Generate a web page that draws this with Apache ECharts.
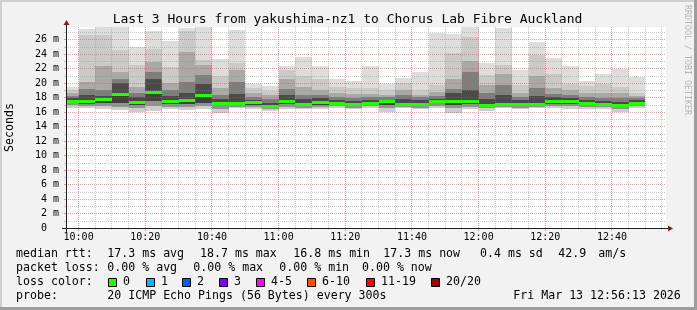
<!DOCTYPE html>
<html><head><meta charset="utf-8">
<script src="https://cdn.jsdelivr.net/npm/echarts@6/dist/echarts.min.js"></script>
<style>html,body{margin:0;padding:0;background:#f2f2f2}#c{width:697px;height:310px}</style>
</head><body><div id="c"></div>
<script>
// ---- data (values in ms, one entry per 5-minute step, step start time) ----
const steps = ['09:55','10:00','10:05','10:10','10:15','10:20','10:25','10:30','10:35','10:40','10:45','10:50','10:55','11:00','11:05','11:10','11:15','11:20','11:25','11:30','11:35','11:40','11:45','11:50','11:55','12:00','12:05','12:10','12:15','12:20','12:25','12:30','12:35','12:40','12:45'];
const pingMax   = [19.4,27.5,27.9,27.9,25.0,27.1,25.8,27.6,27.9,23.3,27.3,19.8,19.6,22.3,23.6,22.3,20.5,20.25,22.3,19.9,20.7,21.5,26.95,26.8,27.9,22.8,27.6,21.8,25.7,23.4,22.3,20.25,21.2,21.9,20.8];
const pingHi1   = [19.0,26.6,26.6,24.5,22.5,24.7,22.2,27.1,23.2,21.0,22.7,19.3,18.9,21.8,21.0,20.6,19.5,19.25,19.3,19.0,20.0,19.0,19.7,24.1,26.4,21.1,22.5,19.7,23.9,21.3,19.9,19.6,19.9,19.4,18.6];
const pingHi2   = [18.6,20.2,22.3,21.5,19.4,22.9,20.0,24.3,22.5,19.3,21.8,18.6,18.3,20.6,19.4,19.0,18.6,18.5,18.5,18.4,19.0,18.4,18.8,20.6,23.1,19.7,21.3,18.6,20.95,19.3,19.0,18.6,18.6,18.6,18.2];
const pingHi3   = [18.2,19.2,19.0,20.6,18.6,21.5,19.0,20.2,21.1,18.4,20.2,18.0,17.8,19.2,18.4,18.4,18.0,17.9,18.0,18.0,18.3,18.0,18.2,19.2,21.5,18.6,19.7,18.0,19.3,18.5,18.4,18.0,17.9,17.9,17.9];
const pingHi4   = [17.9,18.3,18.2,20.0,18.0,20.6,18.2,18.6,19.8,17.8,18.5,17.7,17.3,18.3,17.8,17.9,17.6,17.5,17.6,17.7,17.8,17.6,17.8,18.6,19.0,17.8,18.3,17.6,18.2,18.0,17.9,17.6,17.5,17.4,17.6];
const medianRtt = [17.5,17.5,17.8,18.5,17.4,18.7,17.55,17.7,18.3,17.3,17.3,17.4,16.8,17.55,17.1,17.4,17.3,17.05,17.3,17.5,17.1,17.1,17.55,17.55,17.55,16.95,17.1,17.1,17.1,17.55,17.55,17.2,17.1,17.0,17.3];
const pingLo1   = [17.2,17.1,17.2,17.2,16.9,17.5,17.1,17.1,17.2,16.9,16.9,17.0,16.6,17.1,16.9,17.0,17.0,16.8,17.0,17.0,16.9,16.9,17.2,17.0,17.1,16.7,16.9,16.9,16.9,17.1,17.1,16.9,16.9,16.7,17.0];
const pingLo2   = [16.9,16.8,16.8,16.7,16.5,16.8,16.7,16.7,16.8,16.4,16.7,16.7,16.4,16.7,16.6,16.7,16.8,16.6,16.8,16.5,16.7,16.6,16.8,16.5,16.7,16.5,16.7,16.6,16.7,16.8,16.8,16.7,16.7,16.4,16.8];
const pingMin   = [16.6,16.6,16.4,16.3,16.0,16.2,16.4,16.3,16.4,15.8,16.5,16.4,16.2,16.4,16.4,16.4,16.5,16.4,16.5,16.0,16.5,16.4,16.5,15.9,16.4,16.2,16.5,16.4,16.5,16.5,16.4,16.4,16.4,16.0,16.5];
const xTickLabels = ['10:00','10:20','10:40','11:00','11:20','11:40','12:00','12:20','12:40'];
const rangeStart = '09:56:13', rangeEnd = '12:56:13';
const titleText = 'Last 3 Hours from yakushima-nz1 to Chorus Lab Fibre Auckland';
const rttStats  = ['17.3 ms avg','18.7 ms max','16.8 ms min','17.3 ms now','0.4 ms sd','42.9','am/s'];
const lossStats = ['0.00 % avg','0.00 % max','0.00 % min','0.00 % now'];
const lossNames  = ['0','1','2','3','4-5','6-10','11-19','20/20'];
const lossColors = ['#26ff00','#00b8ff','#0059ff','#7e00ff','#ff00ff','#ff5500','#ff0000','#a10000'];
const probeText = '20 ICMP Echo Pings (56 Bytes) every 300s';
const dateText  = 'Fri Mar 13 12:56:13 2026';

// ---- helpers ----
const STEP = 5;
function toMin(s){const p=s.split(':').map(Number);return (p[0]-10)*60+p[1]+(p[2]||0)/60;}
const FONT = '"DejaVu Sans Mono", monospace';
const smokeData = steps.map((s,i)=>[toMin(s),pingMin[i],pingLo2[i],pingLo1[i],medianRtt[i],pingHi4[i],pingHi3[i],pingHi2[i],pingHi1[i],pingMax[i]]);
const medianData = steps.map((s,i)=>[toMin(s),medianRtt[i]]);
const FILL = ['#cdcdcd','#929292','#404040','#4a4a4a','#7e7e7e','#a9a9a9','#cacaca','#dddddd'];
const xMin = toMin(rangeStart), xMax = toMin(rangeEnd);
const gridData = [];
for (let v = Math.ceil(xMin/STEP)*STEP; v < xMax; v += STEP) gridData.push([v,0,v%20===0?1:0]);
for (let v = 1; v < 28; v++) gridData.push([v,1,v%2===0?1:0]);

function renderSmoke(params, api){
  const cs = params.coordSys, t = api.value(0);
  let x0 = Math.round(api.coord([t,0])[0]), x1 = Math.round(api.coord([t+STEP,0])[0]);
  x0 = Math.max(x0, Math.round(cs.x)); x1 = Math.min(x1, Math.round(cs.x+cs.width));
  const children = [];
  for (let k=0;k<8;k++){
    const ya = Math.round(api.coord([t,api.value(k+1)])[1]);
    let yb = Math.round(api.coord([t,api.value(k+2)])[1]);
    yb = Math.max(yb, cs.y);
    if (ya-yb<=0) continue;
    children.push({type:'rect',shape:{x:x0,y:yb,width:x1-x0,height:ya-yb},style:{fill:FILL[k]}});
  }
  return {type:'group',children};
}
function renderMedian(params, api){
  const cs = params.coordSys, t = api.value(0);
  let x0 = Math.round(api.coord([t,0])[0]), x1 = Math.round(api.coord([t+STEP,0])[0]);
  x0 = Math.max(x0, Math.round(cs.x)); x1 = Math.min(x1, Math.round(cs.x+cs.width));
  const y = Math.round(api.coord([t,api.value(1)])[1]);
  return {type:'rect',shape:{x:x0,y:y-1,width:x1-x0,height:3},style:{fill:'#26ff00'}};
}
function renderGrid(params, api){
  const cs = params.coordSys, v = api.value(0), dir = api.value(1), major = api.value(2);
  const col = major ? 'rgba(222,79,79,0.55)' : 'rgba(143,143,143,0.45)';
  if (dir===0){
    const x = Math.floor(api.coord([v,0])[0])+0.5;
    const yb = cs.y+cs.height;
    return {type:'group',children:[
      {type:'line',shape:{x1:x,y1:cs.y,x2:x,y2:yb},style:{stroke:col,lineWidth:1,lineDash:[1,1]}},
      {type:'line',shape:{x1:x,y1:yb,x2:x,y2:yb+(major?3:2)},style:{stroke:col,lineWidth:1}}]};
  }
  const y = Math.round(api.coord([0,v])[1])+0.5;
  return {type:'group',children:[
    {type:'line',shape:{x1:cs.x,y1:y,x2:cs.x+cs.width,y2:y},style:{stroke:col,lineWidth:1,lineDash:[1,1]}},
    {type:'line',shape:{x1:cs.x-2,y1:y,x2:cs.x,y2:y},style:{stroke:col,lineWidth:1}}]};
}
function renderAxes(params, api){
  const cs = params.coordSys;
  const x0 = Math.round(cs.x)+0.5, yb = Math.round(cs.y+cs.height)+0.5, xr = cs.x+cs.width, yt = cs.y;
  return {type:'group',children:[
    {type:'line',shape:{x1:cs.x-4,y1:yb,x2:xr+4,y2:yb},style:{stroke:'#1f1f1f',lineWidth:1}},
    {type:'line',shape:{x1:x0,y1:yb+4,x2:x0,y2:yt-4},style:{stroke:'#1f1f1f',lineWidth:1}},
    {type:'polygon',shape:{points:[[xr+2,yb-3],[xr+2,yb+3],[xr+7,yb]]},style:{fill:'#7f1f1f'}},
    {type:'polygon',shape:{points:[[x0-3,yt-2],[x0+3,yt-2],[x0,yt-7]]},style:{fill:'#7f1f1f'}}]};
}

// ---- legend graphics (text only, positions are layout) ----
const g = [];
function txt(x,y,s,extra){g.push(Object.assign({type:'text',x:x,y:y,silent:true,style:{text:s,font:'11.6px '+FONT,fill:'#000',align:'left',verticalAlign:'middle',textAlign:'left',textVerticalAlign:'middle'}},extra||{}));}
g.push({type:'rect',shape:{x:0,y:0,width:697,height:2},style:{fill:'#cfcfcf'}});
g.push({type:'rect',shape:{x:0,y:0,width:2,height:310},style:{fill:'#cfcfcf'}});
g.push({type:'rect',shape:{x:694,y:0,width:3,height:310},style:{fill:'#9e9e9e'}});
g.push({type:'rect',shape:{x:0,y:307,width:697,height:3},style:{fill:'#9e9e9e'}});
g.push({type:'text',x:347.5,y:19.3,style:{text:titleText,font:'13px '+FONT,fill:'#000',align:'center',verticalAlign:'middle',textAlign:'center',textVerticalAlign:'middle'}});
g.push({type:'text',x:687.5,y:60,rotation:-Math.PI/2,style:{text:'RRDTOOL / TOBI OETIKER',font:'8.3px '+FONT,fill:'#b4b4b4',align:'center',verticalAlign:'middle',textAlign:'center',textVerticalAlign:'middle'}});
const r1 = 254.3, r2 = 268.3, r3 = 282.3, r4 = 296;
txt(16,r1,'median rtt:');
[107.3,200,293.3,383.3,480,558.3,598.3].forEach((x,i)=>txt(x,r1,rttStats[i]));
txt(16,r2,'packet loss:');
[107.3,193.3,279.3,362].forEach((x,i)=>txt(x,r2,lossStats[i]));
txt(16,r3,'loss color:');
[108,146,182,219,256,307,366,431].forEach((x,i)=>{
  g.push({type:'rect',shape:{x:x+0.5,y:278.5,width:8,height:8},style:{fill:lossColors[i],stroke:'#000',lineWidth:1}});
  txt(x+15,r3,lossNames[i]);
});
txt(16,r4,'probe:');
txt(107.3,r4,probeText);
txt(513.3,r4,dateText);

const chart = echarts.init(document.getElementById('c'),null,{renderer:'canvas'});
chart.setOption({
  backgroundColor:'#f2f2f2',
  animation:false,
  grid:{left:66,right:31,top:27,bottom:82,show:true,backgroundColor:'#ffffff',borderWidth:0,containLabel:false,outerBoundsMode:'none'},
  xAxis:{type:'value',min:xMin,max:xMax,
    axisLine:{show:false},axisTick:{show:false},splitLine:{show:false},
    axisLabel:{customValues:xTickLabels.map(toMin),margin:4,fontFamily:FONT,fontSize:10,color:'#000',
      formatter:v=>{const m=Math.round(v)+600;return String(Math.floor(m/60)).padStart(2,'0')+':'+String(m%60).padStart(2,'0');}}},
  yAxis:{type:'value',min:0,max:27.72,interval:2,
    name:'Seconds',nameLocation:'middle',nameGap:50,nameTextStyle:{fontFamily:FONT,fontSize:11.6,color:'#000'},
    axisLine:{show:false},axisTick:{show:false},splitLine:{show:false},
    axisLabel:{margin:7,fontFamily:FONT,fontSize:10,color:'#000',showMaxLabel:false,
      formatter:v=>(Math.abs(v%2)>1e-6?'':(v===0?'0  ':v+' m'))}},
  series:[
    {type:'custom',name:'smoke',renderItem:renderSmoke,data:smokeData,z:1,silent:true},
    {type:'custom',name:'grid',renderItem:renderGrid,data:gridData,z:2,silent:true},
    {type:'custom',name:'median',renderItem:renderMedian,data:medianData,z:3,silent:true},
    {type:'custom',name:'axes',renderItem:renderAxes,data:[[0,0]],z:4,silent:true}
  ],
  graphic:{elements:g}
});
</script></body></html>
